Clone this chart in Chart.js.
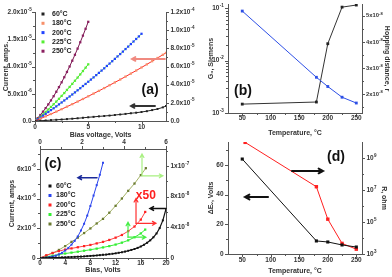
<!DOCTYPE html>
<html><head><meta charset="utf-8">
<script src="https://cdn.jsdelivr.net/npm/chart.js@4/dist/chart.umd.min.js"></script>
<style>
html,body{margin:0;padding:0;background:#fff;}
body{width:392px;height:277px;position:relative;overflow:hidden;}
canvas{position:absolute;}
</style></head><body>
<canvas id="ca" width="198" height="140" style="left:0;top:0"></canvas>
<canvas id="cb" width="194" height="140" style="left:198px;top:0"></canvas>
<canvas id="cc" width="198" height="142" style="left:0;top:135px"></canvas>
<canvas id="cd" width="194" height="142" style="left:198px;top:135px"></canvas>
<script>
// ---------- Panel (a): current vs bias voltage ----------
const aLabels = ['60°C','180°C','200°C','225°C','250°C'];
const aV_half = [0,0.5,1,1.5,2,2.5,3,3.5,4,4.5,5,5.5,6,6.5,7,7.5,8,8.5,9,9.5,10,10.5,11,11.5,12,12.3];
const aV_q10 = [0,0.25,0.5,0.75,1,1.25,1.5,1.75,2,2.25,2.5,2.75,3,3.25,3.5,3.75,4,4.25,4.5,4.75,5,5.25,5.5,5.75,6,6.25,6.5,6.75,7,7.25,7.5,7.75,8,8.25,8.5,8.75,9,9.25,9.5,9.75,10];
const aV_q5 = [0,0.25,0.5,0.75,1,1.25,1.5,1.75,2,2.25,2.5,2.75,3,3.25,3.5,3.75,4,4.25,4.5,4.75,5];
const aI60 = [0,0.05,0.1,0.16,0.22,0.28,0.35,0.42,0.5,0.59,0.68,0.76,0.85,0.92,1.0,1.1,1.2,1.3,1.42,1.52,1.65,1.8,2.0,2.2,2.5,2.75]; // x1e-6 A, left
const aI180 = [0,0.42,0.85,1.28,1.72,2.17,2.63,3.09,3.56,4.04,4.53,5.03,5.53,6.04,6.56,7.08,7.61,8.15,8.7,9.26,9.82,10.39,10.97,11.56,12.15,12.51]; // x1e-6 A, left
const aI200 = [0,0.19,0.39,0.59,0.79,0.99,1.2,1.4,1.61,1.83,2.04,2.26,2.48,2.7,2.92,3.15,3.38,3.61,3.85,4.08,4.32,4.56,4.8,5.05,5.3,5.55,5.8,6.06,6.32,6.58,6.84,7.11,7.37,7.64,7.92,8.19,8.47,8.75,9.03,9.31,9.6]; // x1e-5 A, right
const aI225 = [0,0.22,0.46,0.72,1.0,1.27,1.55,1.84,2.14,2.44,2.76,3.08,3.42,3.75,4.09,4.43,4.78,5.13,5.5,5.87,6.24]; // x1e-5 A, right
const aI250 = [0,0.32,0.66,1.03,1.42,1.83,2.27,2.73,3.22,3.73,4.26,4.82,5.4,6.0,6.64,7.29,7.97,8.67,9.4,10.15,10.92]; // x1e-5 A, right
const aXTicks = [0,5,10], aXTickLabels = ['0','5','10'], aXMinor = [2.5,7.5,12.5];
const aLTicks = [0,5,10,15,20], aLTickLabels = ['0.0','5.0x10^-6','1.0x10^-5','1.5x10^-5','2.0x10^-5'], aLMinor = [2.5,7.5,12.5,17.5];
const aRTicks = [0,2,4,6,8,10,12], aRTickLabels = ['0.0','2.0x10^-5','4.0x10^-5','6.0x10^-5','8.0x10^-5','1.0x10^-4','1.2x10^-4'], aRMinor = [1,3,5,7,9,11];

// ---------- Panel (b): G0 and hopping distance vs T ----------
const bT = [50,180,200,225,250];
const bG0 = [0.088,0.0048,0.0032,0.0020,0.00155];     // Siemens, left log
const bHop = [1.62,1.70,3.93,5.33,5.41];               // x1e-8, right
const bXTicks = [50,100,150,200,250], bXTickLabels = ['50','100','150','200','250'], bXMinor = [75,125,175,225];
const bLTicks = [0.001,0.01,0.1], bLTickLabels = ['10^-3','10^-2','10^-1'];
const bLMinor = [0.002,0.003,0.004,0.005,0.006,0.007,0.008,0.009,0.02,0.03,0.04,0.05,0.06,0.07,0.08,0.09];
const bRTicks = [2,3,4,5], bRTickLabels = ['2x10^-8','3x10^-8','4x10^-8','5x10^-8'], bRMinor = [1.5,2.5,3.5,4.5];

// ---------- Panel (c): current vs bias ----------
const cLabels = ['60°C','180°C','200°C','225°C','250°C'];
const cV60 = [0,0.5,1,1.5,2,2.5,3,3.5,4,4.5,5,5.5,6,6.5,7,7.5,8,8.5,9,9.5,10,10.5,11,11.5,12,12.5,13,13.5,14,14.5,15,15.5,16,16.5,17,17.5,18,18.5,19,19.5,20];
const cI60 = [0,0.01,0.02,0.03,0.04,0.05,0.06,0.08,0.09,0.11,0.13,0.15,0.17,0.19,0.21,0.24,0.27,0.3,0.33,0.37,0.41,0.45,0.5,0.55,0.61,0.68,0.75,0.84,0.94,1.05,1.17,1.32,1.5,1.72,1.98,2.3,2.7,3.2,3.9,4.9,6.4]; // x1e-8, right
const cV180 = [0,0.5,1,1.5,2,2.5,3,3.5,4,4.5,5,5.5,6,6.5,7,7.5,8,8.5,9,9.5,10];
const cI180 = [0,0.01,0.03,0.06,0.1,0.16,0.24,0.35,0.5,0.68,0.9,1.15,1.45,1.85,2.3,2.85,3.5,4.2,4.9,5.6,6.4]; // x1e-6, left
const cV200 = [0,1,2,3,4,5,6,7,8,9,10,11,12,13,14,15,16,16.7];
const cI200 = [0,0.35,0.65,0.9,1.1,1.25,1.4,1.55,1.7,1.9,2.1,2.35,2.65,3.0,3.5,4.1,5.0,6.0]; // x1e-8, right
const cV225 = [0,1,2,3,4,5,6,7,8,9,10,11,12,13,14,15,16,16.7];
const cI225 = [0,0.15,0.3,0.45,0.58,0.7,0.82,0.95,1.08,1.22,1.38,1.55,1.75,2.0,2.3,2.7,3.2,3.7];
const cV250 = [0,1,2,3,4,5,6,7,8,9,10,11,12,13,14,15,16,16.8];
const cI250 = [0,0.3,0.65,1.05,1.55,2.1,2.65,3.25,3.85,4.5,5.1,5.9,6.8,7.75,8.75,9.7,10.8,11.7];
const cXTicks = [0,4,8,12,16,20], cXTickLabels = ['0','4','8','12','16','20'], cXMinor = [2,6,10,14,18];
const cTopTicks = [0,2,4,6], cTopTickLabels = ['0','2','4','6'], cTopMinor = [1,3,5];
const cLTicks = [0,2,4,6], cLTickLabels = ['0','2x10^-6','4x10^-6','6x10^-6'], cLMinor = [1,3,5,7];
const cRTicks = [0,4,8,12], cRTickLabels = ['0','4x10^-8','8x10^-8','1x10^-7'], cRMinor = [2,6,10,14];

// ---------- Panel (d): dEv and R vs T ----------
const dTE = [50,180,200,225,250];
const dE = [64,8.8,8.1,6.1,4.7];                      // Volts, left
const dTR = [55,180,200,225,250];
const dR = [9.5e9,1.6e7,1.5e5,4.6e3,2.0e3];            // ohm, right log
const dLTicks = [0,20,40,60], dLTickLabels = ['0','20','40','60'], dLMinor = [10,30,50,70];
const dRTicks = [1e3,1e5,1e7,1e9], dRTickLabels = ['10^3','10^5','10^7','10^9'], dRMinor = [1e4,1e6,1e8];

// ---------- helpers ----------
const FF = "'Liberation Sans','DejaVu Sans',Arial,sans-serif";
Chart.defaults.font.family = FF;
Chart.defaults.font.size = 7;
Chart.defaults.font.weight = 'bold';
Chart.defaults.color = '#333';
Chart.defaults.animation = false;
Chart.defaults.plugins.legend.display = false;
Chart.defaults.plugins.tooltip.enabled = false;

function axis(o){
  return {
    type: o.type || 'linear', position: o.pos, min: o.min, max: o.max, display: true,
    grid: {display:false},
    border: {display:true, color:'#555', width:1},
    ticks: {display:false},
    title: o.title ? {display:true, text:o.title, color:'#333', font:{size:7, weight:'bold'}, padding:o.tp} : {display:false},
    afterBuildTicks: s => { s.$lab = o; },
    afterFit: s => { if (s.isHorizontal()) s.height = o.size; else s.width = o.size;
                     s.paddingTop = 0; s.paddingBottom = 0; s.paddingLeft = 0; s.paddingRight = 0; }
  };
}
function ds(label, xs, ys, mc, lc, yid, r, bw){
  return {label, data: xs.map((x,i)=>({x, y: ys[i]})), xAxisID:'x', yAxisID: yid, showLine:true,
    borderColor: lc, borderWidth: bw || 1, pointBackgroundColor: mc, pointBorderColor: mc,
    pointBorderWidth: 0, pointStyle:'rect', pointRadius: r, tension: 0};
}
function drawSci(ctx, text, x, y, align, fs){
  fs = fs || 6.5; const es = fs * 0.7;
  const parts = text.split('^'), b = parts[0], e = parts[1];
  ctx.font = 'bold ' + fs + 'px ' + FF; const wb = ctx.measureText(b).width;
  let we = 0; if (e) { ctx.font = 'bold ' + es + 'px ' + FF; we = ctx.measureText(e).width; }
  const w = wb + we;
  const sx = align === 'right' ? x - w : align === 'center' ? x - w/2 : x;
  ctx.textAlign = 'left'; ctx.textBaseline = 'middle'; ctx.fillStyle = '#333';
  ctx.font = 'bold ' + fs + 'px ' + FF; ctx.fillText(b, sx, y);
  if (e) { ctx.font = 'bold ' + es + 'px ' + FF; ctx.fillText(e, sx + wb + 0.2, y - fs * 0.4); }
}
const tlab = {
  id:'tlab',
  afterDraw(chart){
    const ctx = chart.ctx; ctx.save();
    ctx.strokeStyle = '#555'; ctx.lineWidth = 1;
    for (const s of Object.values(chart.scales)) {
      const o = s.$lab; if (!o) continue;
      const tick = (v, len) => {
        const p = s.getPixelForValue(v);
        if (s.isHorizontal()) { if (p < chart.chartArea.left - 0.5 || p > chart.chartArea.right + 0.5) return;
          const y0 = o.pos === 'bottom' ? s.top : s.bottom, dir = o.pos === 'bottom' ? 1 : -1;
          ctx.beginPath(); ctx.moveTo(Math.round(p)+0.5, y0); ctx.lineTo(Math.round(p)+0.5, y0 + dir*len); ctx.stroke();
        } else { if (p < chart.chartArea.top - 0.5 || p > chart.chartArea.bottom + 0.5) return;
          const x0 = o.pos === 'left' ? s.right : s.left, dir = o.pos === 'left' ? -1 : 1;
          ctx.beginPath(); ctx.moveTo(x0, Math.round(p)+0.5); ctx.lineTo(x0 + dir*len, Math.round(p)+0.5); ctx.stroke();
        }
      };
      (o.minor || []).forEach(v => tick(v, 2));
      const gap = o.gap || 4.5;
      o.ticks.forEach((v, i) => {
        tick(v, 3);
        const p = s.getPixelForValue(v), t = o.labels[i];
        if (o.pos === 'left') drawSci(ctx, t, s.right - gap, p, 'right', o.fs);
        else if (o.pos === 'right') drawSci(ctx, t, s.left + gap, p, 'left', o.fs);
        else if (o.pos === 'bottom') drawSci(ctx, t, p, s.top + o.lo, 'center', o.fs);
        else drawSci(ctx, t, p, s.bottom - o.lo, 'center', o.fs);
      });
    }
    ctx.restore();
  }
};
function drawArrow(ctx,x1,y1,x2,y2,color,w,h){
  const a = Math.atan2(y2-y1,x2-x1);
  ctx.strokeStyle = color; ctx.lineWidth = w; ctx.lineCap='round';
  ctx.beginPath(); ctx.moveTo(x1,y1); ctx.lineTo(x2,y2);
  ctx.moveTo(x2 - h*Math.cos(a-0.5), y2 - h*Math.sin(a-0.5)); ctx.lineTo(x2,y2);
  ctx.lineTo(x2 - h*Math.cos(a+0.5), y2 - h*Math.sin(a+0.5));
  ctx.stroke();
}
const annot = {
  id:'annot',
  afterDraw(chart, args, opts){
    const ctx = chart.ctx; ctx.save();
    for (const it of (opts.items||[])) {
      const xs = chart.scales[it.xs||'x'], ys = chart.scales[it.ys];
      if (it.type === 'text') {
        ctx.font = it.font; ctx.fillStyle = it.color; ctx.textAlign='center'; ctx.textBaseline='middle';
        ctx.fillText(it.text, xs.getPixelForValue(it.x), ys.getPixelForValue(it.y));
      } else {
        drawArrow(ctx, xs.getPixelForValue(it.x1), ys.getPixelForValue(it.y1),
                       xs.getPixelForValue(it.x2), ys.getPixelForValue(it.y2), it.color, it.w, it.h);
      }
    }
    ctx.restore();
  }
};
const leg = {
  id:'leg',
  afterDraw(chart, args, o){
    if (!o || !o.show) return;
    const ctx = chart.ctx, ca = chart.chartArea; ctx.save();
    ctx.font = 'bold 7px ' + FF; ctx.textBaseline='middle'; ctx.textAlign='left';
    chart.data.datasets.forEach((d,i)=>{
      const x = ca.left + o.dx, y = ca.top + o.dy + i*o.step;
      ctx.fillStyle = d.pointBackgroundColor; ctx.fillRect(x-1.5, y-1.5, 3, 3);
      ctx.fillStyle = '#222'; ctx.fillText(d.label, x + o.tx, y);
    });
    ctx.restore();
  }
};

// ---------- (a) ----------
new Chart(document.getElementById('ca'), {
  type:'scatter',
  data:{datasets:[
    ds(aLabels[0], aV_half, aI60, '#222', '#222', 'yL', 1.4),
    ds(aLabels[1], aV_half, aI180, '#f7906a', '#ff2a2a', 'yL', 1.6),
    ds(aLabels[2], aV_q10, aI200, '#2244ff', '#66dd55', 'yR', 1.6),
    ds(aLabels[3], aV_q5, aI225, '#55ee33', '#44dd33', 'yR', 1.6),
    ds(aLabels[4], aV_q5, aI250, '#8b2060', '#7a1850', 'yR', 1.6)
  ]},
  options:{responsive:false, layout:{padding:{top:12,left:0,right:0,bottom:0}},
    scales:{
      x: axis({pos:'bottom', min:0, max:12.3, ticks:aXTicks, labels:aXTickLabels, minor:aXMinor, lo:6.5, size:19, title:'Bias voltage, Volts', tp:{top:0,bottom:0.8}}),
      yL: axis({pos:'left', min:0, max:20, ticks:aLTicks, labels:aLTickLabels, minor:aLMinor, gap:3.5, size:35, title:'Current, amps.', tp:{top:2.3,bottom:0}}),
      yR: axis({pos:'right', min:0, max:12, ticks:aRTicks, labels:aRTickLabels, minor:aRMinor, size:32})
    },
    plugins:{
      leg:{show:true, dx:8, dy:2, step:9.3, tx:9},
      annot:{items:[
        {type:'text', text:'(a)', x:10.8, y:5.69, ys:'yL', font:'bold 14px '+FF, color:'#111'},
        {type:'arrow', x1:12.2, y1:11.38, x2:9.1, y2:11.38, ys:'yL', color:'#f08a80', w:1.8, h:4},
        {type:'arrow', x1:11.27, y1:2.75, x2:9.01, y2:2.75, ys:'yL', color:'#333', w:1.8, h:4}
      ]}
    }},
  plugins:[annot, leg, tlab]
});

// ---------- (b) ----------
new Chart(document.getElementById('cb'), {
  type:'scatter',
  data:{datasets:[
    ds('G0', bT, bG0, '#2d4fe6', '#2d4fe6', 'yL', 2),
    ds('r', bT, bHop, '#222', '#333', 'yR', 2)
  ]},
  options:{responsive:false, layout:{padding:{top:3,left:0,right:0,bottom:0}},
    scales:{
      x: axis({pos:'bottom', min:25, max:260, ticks:bXTicks, labels:bXTickLabels, minor:bXMinor, lo:5.5, size:27, title:'Temperature, °C', tp:{top:0,bottom:2.8}}),
      yL: axis({type:'logarithmic', pos:'left', min:0.001, max:0.12, ticks:bLTicks, labels:bLTickLabels, minor:bLMinor, size:30, title:'G₀, Siemens', tp:{top:8.8,bottom:0}}),
      yR: axis({pos:'right', min:1.28, max:5.45, ticks:bRTicks, labels:bRTickLabels, minor:bRMinor, fs:5.8, gap:4, size:30, title:'Hopping distance, r', tp:{top:1,bottom:0}})
    },
    plugins:{
      annot:{items:[
        {type:'text', text:'(b)', x:51.3, y:0.0026, ys:'yL', font:'bold 14px '+FF, color:'#111'}
      ]}
    }},
  plugins:[annot, tlab]
});

// ---------- (c) ----------
new Chart(document.getElementById('cc'), {
  type:'scatter',
  data:{datasets:[
    ds(cLabels[0], cV60, cI60, '#111', '#111', 'yR', 1.4, 1.2),
    ds(cLabels[1], cV180, cI180, '#2a44ee', '#2a44ee', 'yL', 1.4),
    ds(cLabels[2], cV200, cI200, '#ff2222', '#ff4444', 'yR', 1.6),
    ds(cLabels[3], cV225, cI225, '#33ee33', '#33ee33', 'yR', 1.6),
    ds(cLabels[4], cV250, cI250, '#6a7a30', '#a4b266', 'yR', 1.6)
  ]},
  options:{responsive:false, layout:{padding:0},
    scales:{
      x: axis({pos:'bottom', min:0, max:20, ticks:cXTicks, labels:cXTickLabels, minor:cXMinor, lo:5.5, size:19, title:'Bias, Volts', tp:{top:0,bottom:2.5}}),
      xTop: axis({pos:'top', min:0, max:6, ticks:cTopTicks, labels:cTopTickLabels, minor:cTopMinor, lo:7, size:14}),
      yL: axis({pos:'left', min:0, max:7.33, ticks:cLTicks, labels:cLTickLabels, minor:cLMinor, size:40, title:'Current, amps', tp:{top:8,bottom:0}}),
      yR: axis({pos:'right', min:0, max:14.2, ticks:cRTicks, labels:cRTickLabels, minor:cRMinor, size:32})
    },
    plugins:{
      leg:{show:true, dx:10, dy:37, step:9.5, tx:6},
      annot:{items:[
        {type:'text', text:'(c)', x:2.06, y:6.33, ys:'yL', font:'bold 14px '+FF, color:'#111'},
        {type:'arrow', x1:9.05, y1:5.4, x2:6.03, y2:5.4, ys:'yL', color:'#1a2a9a', w:1.5, h:4},
        {type:'arrow', x1:20, y1:6.45, x2:17.46, y2:6.45, ys:'yR', color:'#111', w:1.5, h:4},
        {type:'text', text:'x50', x:16.8, y:8.13, ys:'yR', font:'bold 12px '+FF, color:'#ff2020'},
        {type:'arrow', x1:15.24, y1:4.52, x2:15.24, y2:7.75, ys:'yR', color:'#ff3030', w:1.2, h:4},
        {type:'arrow', x1:15.24, y1:4.52, x2:18.4, y2:4.52, ys:'yR', color:'#ff3030', w:1.2, h:4},
        {type:'arrow', x1:13.97, y1:2.71, x2:13.97, y2:4.65, ys:'yR', color:'#44ee44', w:1.2, h:4},
        {type:'arrow', x1:13.97, y1:2.71, x2:16.8, y2:2.71, ys:'yR', color:'#44ee44', w:1.2, h:4},
        {type:'arrow', x1:16.19, y1:10.7, x2:16.19, y2:13.56, ys:'yR', color:'#a8f080', w:1.2, h:4},
        {type:'arrow', x1:16.19, y1:10.7, x2:19.5, y2:10.7, ys:'yR', color:'#a8f080', w:1.2, h:4}
      ]}
    }},
  plugins:[annot, leg, tlab]
});

// ---------- (d) ----------
new Chart(document.getElementById('cd'), {
  type:'scatter',
  data:{datasets:[
    ds('ΔEv', dTE, dE, '#111', '#111', 'yL', 2.2),
    ds('R', dTR, dR, '#ff2020', '#ff2020', 'yR', 2.4)
  ]},
  options:{responsive:false, layout:{padding:{top:7,left:0,right:0,bottom:0}},
    scales:{
      x: axis({pos:'bottom', min:25, max:260, ticks:bXTicks, labels:bXTickLabels, minor:bXMinor, lo:6.5, size:23, title:'Temperature, °C', tp:{top:0,bottom:1.8}}),
      yL: axis({pos:'left', min:0, max:75.5, ticks:dLTicks, labels:dLTickLabels, minor:dLMinor, size:30, title:'ΔEᵥ, Volts', tp:{top:9,bottom:0}}),
      yR: axis({type:'logarithmic', pos:'right', min:1e3, max:1e10, ticks:dRTicks, labels:dRTickLabels, minor:dRMinor, size:30, title:'R, ohm', tp:{top:4,bottom:0}})
    },
    plugins:{
      annot:{items:[
        {type:'text', text:'(d)', x:214.4, y:65.4, ys:'yL', font:'bold 14px '+FF, color:'#111'},
        {type:'arrow', x1:137.2, y1:56, x2:191.6, y2:56, ys:'yL', color:'#111', w:2, h:5},
        {type:'arrow', x1:95.2, y1:38.4, x2:54.8, y2:38.4, ys:'yL', color:'#111', w:2, h:5}
      ]}
    }},
  plugins:[annot, tlab]
});
</script></body></html>
